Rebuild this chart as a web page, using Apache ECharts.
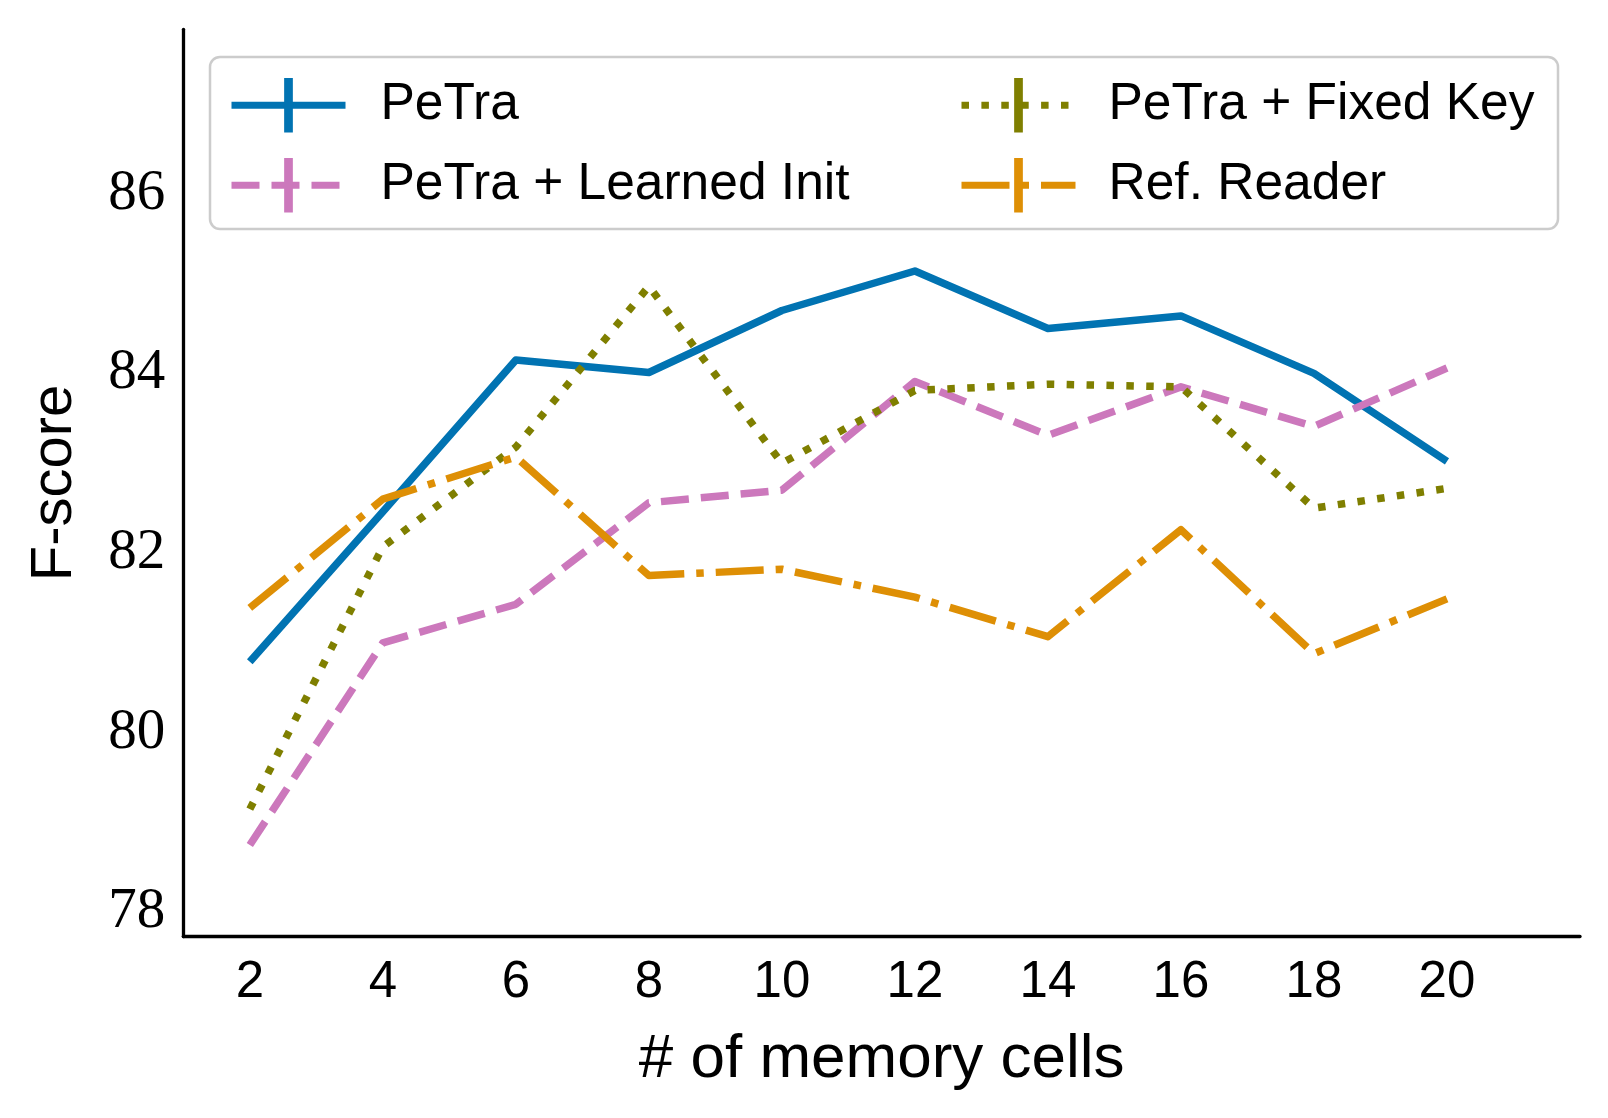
<!DOCTYPE html>
<html>
<head>
<meta charset="utf-8">
<script src="https://cdn.jsdelivr.net/npm/echarts@6/dist/echarts.min.js"></script>
<style>
html,body{margin:0;padding:0;background:#ffffff;}
#chart{width:1608px;height:1118px;}
</style>
</head>
<body>
<div id="chart"></div>
<script>
// ---- data ----
const memoryCells = [2, 4, 6, 8, 10, 12, 14, 16, 18, 20];
const petra       = [80.79, 82.46, 84.15, 84.01, 84.70, 85.14, 84.50, 84.64, 84.00, 83.02];
const learnedInit = [78.75, 81.00, 81.43, 82.56, 82.70, 83.91, 83.31, 83.85, 83.41, 84.06];
const fixedKey    = [79.15, 82.07, 83.18, 84.97, 83.00, 83.81, 83.88, 83.85, 82.50, 82.72];
const refReader   = [81.39, 82.60, 83.07, 81.75, 81.82, 81.51, 81.07, 82.26, 80.88, 81.49];
const xTickValues = [2, 4, 6, 8, 10, 12, 14, 16, 18, 20];
const yTickValues = [78, 80, 82, 84, 86];
const seriesNames = ['PeTra', 'PeTra + Learned Init', 'PeTra + Fixed Key', 'Ref. Reader'];
const xAxisName = '# of memory cells';
const yAxisName = 'F-score';

// ---- styling ----
const LW = 7.5;
const colors = ['#0173b2', '#cc78bc', '#7f7f00', '#de8f05'];
const dashes = ['solid', [28, 12], [7.5, 12.4], [48, 12, 7.5, 12]];
const barIcon = 'path://M0,0h0.1v0.1h-0.1z M42,0h16v100h-16z M99.9,99.9h0.1v0.1h-0.1z';

function pairs(ys) { return memoryCells.map((x, i) => [x, ys[i]]); }
const allValues = [petra, learnedInit, fixedKey, refReader];

const series = allValues.map((vals, i) => ({
  name: seriesNames[i],
  type: 'line',
  data: pairs(vals),
  symbol: barIcon,
  showSymbol: false,
  color: colors[i],
  itemStyle: { color: colors[i], borderWidth: 0 },
  lineStyle: { color: colors[i], width: LW, type: dashes[i], cap: 'butt', join: 'round' },
  emphasis: { disabled: true },
  silent: true,
  z: 2 + i
}));

const legendCommon = {
  orient: 'vertical',
  top: 78,
  itemWidth: 114,
  itemHeight: 68,
  itemGap: 25.6,
  padding: 0,
  selectedMode: false,
  lineStyle: { width: 7 },
  itemStyle: { borderWidth: 0 },
  z: 10
};

const chart = echarts.init(document.getElementById('chart'), null, { renderer: 'canvas' });
chart.setOption({
  animation: false,
  backgroundColor: '#ffffff',
  grid: { left: 183.3, right: 28, top: 29.3, bottom: 181.3, containLabel: false },
  xAxis: {
    type: 'value',
    min: 1, max: 22,
    name: xAxisName,
    nameLocation: 'middle',
    nameGap: 92,
    nameTextStyle: { fontFamily: 'Liberation Sans', fontSize: 62, color: '#000' },
    axisLine: { show: true, onZero: false, lineStyle: { color: '#000', width: 3.3 } },
    axisTick: { show: false },
    splitLine: { show: false },
    axisLabel: {
      customValues: xTickValues,
      margin: 21,
      fontFamily: 'Liberation Sans', fontSize: 51, color: '#000'
    }
  },
  yAxis: {
    type: 'value',
    min: 77.73, max: 87.83,
    name: yAxisName,
    nameLocation: 'middle',
    nameGap: 99,
    nameTextStyle: { fontFamily: 'Liberation Sans', fontSize: 58, color: '#000' },
    axisLine: { show: true, onZero: false, lineStyle: { color: '#000', width: 3.3 } },
    axisTick: { show: false },
    splitLine: { show: false },
    axisLabel: {
      customValues: yTickValues,
      margin: 18,
      padding: [8, 0, 0, 0],
      fontFamily: 'Liberation Serif', fontSize: 57, color: '#000'
    }
  },
  legend: [
    Object.assign({}, legendCommon, {
      left: 228,
      data: [seriesNames[0], seriesNames[1]],
      textStyle: { fontFamily: 'Liberation Sans', fontSize: 51.5, color: '#000', padding: [0, 0, 0, 30] }
    }),
    Object.assign({}, legendCommon, {
      left: 958,
      data: [seriesNames[2], seriesNames[3]],
      textStyle: { fontFamily: 'Liberation Sans', fontSize: 51.5, color: '#000', padding: [0, 0, 0, 28] }
    })
  ],
  graphic: [{
    type: 'rect',
    z: 8,
    silent: true,
    shape: { x: 210, y: 57, width: 1348, height: 172, r: 10 },
    style: { fill: 'rgba(255,255,255,0.8)', stroke: '#cccccc', lineWidth: 2.5 }
  }],
  series: series
});
</script>
</body>
</html>
